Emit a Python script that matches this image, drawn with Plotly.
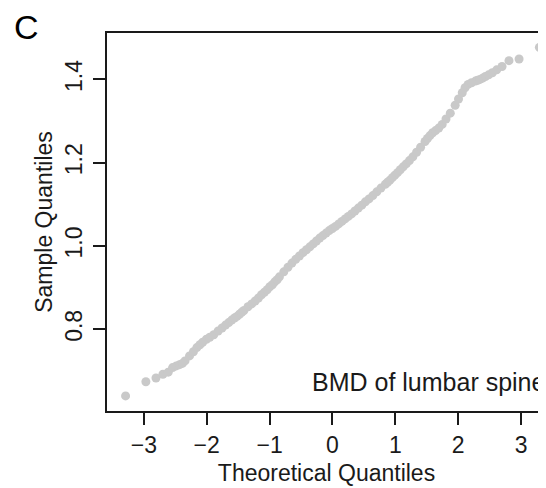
import plotly.graph_objects as go
from statistics import NormalDist

# ---------------- data ----------------
n_obs = 1000  # sample size behind the Q-Q plot

# ranks of the plotted order statistics (dense band thinned where points overlap)
ranks = [1, 2, 3, 4, 5, 6, 7, 8, 9, 10, 12, 14, 16, 18, 20, 23, 26, 30, 35, 40,
         45, 50, 55, 60, 65, 70, 75, 80, 90, 100, 110, 120, 130, 140, 150, 160,
         170, 180, 190, 200, 220, 240, 260, 280, 300, 320, 340, 360, 380, 400,
         420, 440, 460, 480, 500, 520, 540, 560, 580, 600, 620, 640, 660, 680,
         700, 720, 740, 760, 780, 800, 810, 820, 830, 840, 850, 860, 870, 880,
         890, 900, 910, 920, 930, 935, 940, 945, 950, 955, 960, 965, 970, 975,
         978, 981, 983, 985, 987, 989, 990, 991, 992, 993, 994, 995, 996, 997,
         998, 999, 1000]

# sample quantiles (BMD values) read at those ranks
sample_quantiles = [0.640, 0.674, 0.683, 0.692, 0.697, 0.708, 0.712, 0.715, 0.718, 0.724,
                    0.736, 0.746, 0.756, 0.763, 0.769, 0.776, 0.781, 0.787, 0.796, 0.803,
                    0.810, 0.816, 0.822, 0.827, 0.831, 0.836, 0.841, 0.845, 0.854, 0.861,
                    0.868, 0.875, 0.883, 0.889, 0.895, 0.902, 0.907, 0.914, 0.919, 0.926,
                    0.938, 0.949, 0.959, 0.968, 0.976, 0.984, 0.991, 0.998, 1.005, 1.012,
                    1.019, 1.025, 1.031, 1.037, 1.042, 1.047, 1.053, 1.059, 1.065, 1.071,
                    1.077, 1.084, 1.091, 1.098, 1.106, 1.113, 1.121, 1.130, 1.139, 1.148,
                    1.153, 1.158, 1.164, 1.170, 1.176, 1.183, 1.190, 1.197, 1.205, 1.214,
                    1.225, 1.237, 1.251, 1.258, 1.265, 1.272, 1.277, 1.283, 1.292, 1.305,
                    1.319, 1.338, 1.353, 1.368, 1.380, 1.388, 1.392, 1.396, 1.398, 1.400,
                    1.403, 1.407, 1.411, 1.416, 1.423, 1.431, 1.445, 1.449, 1.477]

x_tick_values = [-3, -2, -1, 0, 1, 2, 3]
y_tick_values = [0.8, 1.0, 1.2, 1.4]
y_tick_labels = ["0.8", "1.0", "1.2", "1.4"]

panel_label = "C"
panel_note = "BMD of lumbar spine"
x_title = "Theoretical Quantiles"
y_title = "Sample Quantiles"

# theoretical normal quantiles, as qqnorm computes them (ppoints, a = 0.5)
theoretical = [NormalDist().inv_cdf((r - 0.5) / n_obs) for r in ranks]

# ---------------- layout ----------------
OFF = 8                      # default page (body) margin of the html page
WIN_W, WIN_H = 546, 488
W, H = WIN_W - OFF, WIN_H - OFF
L, R, T, B = 107 - OFF, 0, 33 - OFF, 77
FONT = "Liberation Sans, Arial, Helvetica, sans-serif"
INK = "#1a1a1a"


def px_x(px):  # window pixel -> paper fraction
    return (px - OFF - L) / (W - L - R)


def px_y(py):
    return (H - B - (py - OFF)) / (H - T - B)


fig = go.Figure()
fig.add_trace(go.Scatter(
    x=theoretical, y=sample_quantiles, mode="markers",
    marker=dict(size=9, color="#c9c9c9", line=dict(width=0)),
    hoverinfo="x+y", showlegend=False,
))

fig.update_layout(
    width=W, height=H,
    margin=dict(l=L, r=R, t=T, b=B, pad=0),
    paper_bgcolor="white", plot_bgcolor="white",
    font=dict(family=FONT, size=23, color=INK),
    showlegend=False,
    xaxis=dict(
        range=[-3.586, 3.396], tickvals=x_tick_values,
        ticks="outside", ticklen=12, tickwidth=1.6, tickcolor=INK,
        showline=True, linewidth=1.6, linecolor=INK, mirror=True,
        showgrid=False, zeroline=False,
        tickfont=dict(size=23), ticklabelstandoff=1,
        title=dict(text=x_title, font=dict(size=23), standoff=7),
    ),
    yaxis=dict(
        range=[0.6038, 1.5114], tickvals=y_tick_values, ticktext=y_tick_labels,
        ticks="outside", ticklen=12, tickwidth=1.6, tickcolor=INK,
        showline=True, linewidth=1.6, linecolor=INK, mirror=False,
        showgrid=False, zeroline=False, tickangle=-90,
        tickfont=dict(size=23), ticklabelstandoff=2,
        title=dict(text=y_title, font=dict(size=23), standoff=2),
    ),
    annotations=[
        dict(text=panel_label, xref="paper", yref="paper",
             x=px_x(12), y=px_y(27), xanchor="left", yanchor="middle",
             showarrow=False, font=dict(size=34, color="black")),
        dict(text=panel_note, xref="paper", yref="paper",
             x=px_x(547), y=px_y(382), xanchor="right", yanchor="middle",
             showarrow=False, font=dict(size=25, color=INK)),
    ],
)

fig.write_html("out.html")
